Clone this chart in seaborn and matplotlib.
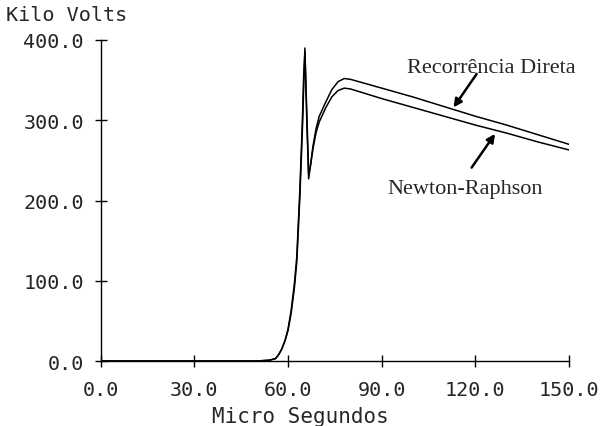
import matplotlib
matplotlib.use("Agg")
import matplotlib.pyplot as plt
import seaborn as sns
import pandas as pd

# ---- data ----
time_us = [0, 50, 54, 56, 57, 58, 59, 60, 61, 62, 62.8, 63.8, 64.6, 65.0, 65.4,
           66.0, 66.6, 67.2, 68, 69, 70, 72, 74, 76, 78, 80, 90, 100, 110,
           120, 130, 140, 150]
recorrencia = [0, 0, 1, 3, 8, 15, 25, 38, 60, 90, 123, 206, 289, 340, 390,
               300, 227, 245, 268, 290, 305, 322, 338, 348, 352, 351, 340,
               329, 317, 305, 294, 282, 270]
newton = [0, 0, 1, 3, 8, 15, 25, 40, 63, 95, 130, 215, 300, 355, 385,
          310, 232, 243, 265, 285, 298, 315, 329, 337, 340, 339, 327,
          316, 305, 294, 284, 273, 263]
x_ticks = [0, 30, 60, 90, 120, 150]
x_tick_labels = ["0.0", "30.0", "60.0", "90.0", "120.0", "150.0"]
y_ticks = [0, 100, 200, 300, 400]
y_tick_labels = ["0.0", "100.0", "200.0", "300.0", "400.0"]

df = pd.DataFrame({
    "t": time_us * 2,
    "kv": recorrencia + newton,
    "metodo": ["Recorrência Direta"] * len(time_us) + ["Newton-Raphson"] * len(time_us),
})

sns.set_style("ticks")
mono = ["DejaVu Sans Mono"]
serif = ["Liberation Serif", "DejaVu Serif"]

fig = plt.figure(figsize=(6.01, 4.27), dpi=100)
ax = fig.add_axes([0.1676, 0.1522, 0.9468 - 0.1676, 0.904 - 0.1522])

sns.lineplot(data=df, x="t", y="kv", hue="metodo",
             palette={"Recorrência Direta": "black", "Newton-Raphson": "black"},
             linewidth=1.1, legend=False, ax=ax, estimator=None, sort=False)

ax.set_xlim(0, 150)
ax.set_ylim(0, 400)
ax.set_xticks(x_ticks)
ax.set_xticklabels(x_tick_labels, family=mono, fontsize=14.5)
ax.set_yticks(y_ticks)
ax.set_yticklabels(y_tick_labels, family=mono, fontsize=14.5)
ax.tick_params(direction="inout", length=9, width=1, color="black")
ax.tick_params(axis="y", pad=7.5)
ax.tick_params(axis="x", pad=9)
for s in ["top", "right"]:
    ax.spines[s].set_visible(False)
for s in ["left", "bottom"]:
    ax.spines[s].set_linewidth(1)
    ax.spines[s].set_color("black")

ax.set_xlabel("")
ax.set_ylabel("")
fig.text(0.01, 0.9637, "Kilo Volts", family=mono, fontsize=14.5, ha="left", va="center")
ax.text(64, -69, "Micro Segundos", family=mono, fontsize=15, ha="center", va="center")

arrow = dict(arrowstyle="-|>", color="black", lw=1.8, mutation_scale=12, shrinkA=0, shrinkB=0)
ax.annotate("", xy=(113, 316), xytext=(120.4, 357.6), arrowprops=arrow)
ax.annotate("", xy=(126.3, 283), xytext=(118.8, 241), arrowprops=arrow)
ax.text(125, 366, "Recorrência Direta", family=serif, fontsize=16, ha="center", va="center")
ax.text(116.8, 215, "Newton-Raphson", family=serif, fontsize=16, ha="center", va="center")

fig.savefig("out.png", dpi=100, facecolor="white")
